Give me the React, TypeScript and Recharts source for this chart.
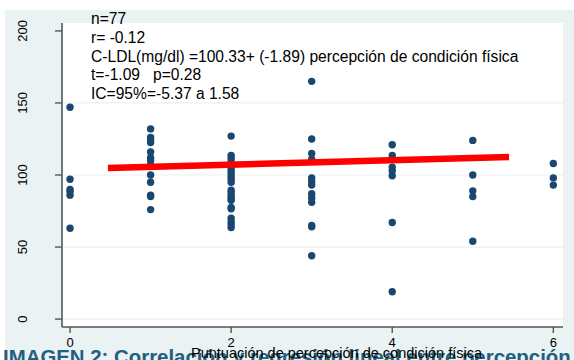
import React from 'react';
import {
  ScatterChart, Scatter, XAxis, YAxis, CartesianGrid,
} from 'recharts';

// C-LDL (mg/dl) read per physical-condition score
const scores = [0, 1, 2, 3, 4, 5, 6];
const ldlScore0 = [147, 97, 90, 88.5, 86, 63];
const ldlScore1 = [132, 126, 124.5, 122.5, 116, 112, 110, 107, 100, 95, 86, 85, 76];
const ldlScore2 = [127, 113.5, 111.5, 109, 105, 103, 101, 99, 97, 95, 89.5, 87.5, 85.5, 84, 82.5, 77.5, 76.5, 70, 67.5, 65.5, 63.5];
const ldlScore3 = [165, 125, 115, 111, 98, 95.5, 93, 87, 84, 81, 65, 64, 44];
const ldlScore4 = [121, 113.5, 105.5, 103, 99.5, 67, 19];
const ldlScore5 = [124, 100, 89, 85, 54];
const ldlScore6 = [108, 98, 93];

// fitted line as drawn
const fitX = [0.47, 5.45];
const fitY = [104.9, 112.5];

const xTicks = [0, 2, 4, 6];
const yTicks = [0, 50, 100, 150, 200];
const gridValues = [0, 50, 100, 150];

const statLines = [
  'n=77',
  'r= -0.12',
  'C-LDL(mg/dl) =100.33+ (-1.89) percepción de condición física',
  't=-1.09   p=0.28',
  'IC=95%=-5.37 a 1.58',
];

const columns = [ldlScore0, ldlScore1, ldlScore2, ldlScore3, ldlScore4, ldlScore5, ldlScore6];
const points = columns.flatMap((col, i) => col.map(y => ({ x: scores[i], y })));
const fitData = fitX.map((x, i) => ({ x, y: fitY[i] }));

const W = 574;
const H = 360;
const FONT = '"Liberation Sans", Arial, sans-serif';
const BG = '#eaf2f3';
const AXIS = '#555555';

const Dot = (p: any) => <circle cx={p.cx} cy={p.cy} r={3.7} fill="#1a476f" />;
const NoDot = () => <g />;

const YTick = (p: any) => {
  const x = p.x - 26;
  return (
    <text x={x} y={p.y} transform={`rotate(-90, ${x}, ${p.y})`} textAnchor="middle"
      fontSize={13} fill="#000" fontFamily={FONT}>
      {p.payload.value}
    </text>
  );
};

const XTitle = (p: any) => {
  const vb = p.viewBox || { x: 62, width: 501 };
  return (
    <text x={vb.x + vb.width / 2 + 24} y={358} textAnchor="middle" fontSize={14.5} fill="#000" fontFamily={FONT}>
      Puntuación de percepción de condición física
    </text>
  );
};

export default function App() {
  return (
    <div style={{ position: 'absolute', left: 0, top: 0, width: W, height: H, background: '#fff', fontFamily: FONT, overflow: 'hidden' }}>
      <div style={{ position: 'absolute', left: 5, top: 10, right: 0, bottom: 0, background: BG }} />

      {/* caption behind the chart */}
      <svg width={W} height={H} style={{ position: 'absolute', left: 0, top: 0 }}>
        <text x={3} y={364} fontSize={20.4} fontWeight="bold" fill="#21607c" fontFamily={FONT}>
          IMAGEN 2: Correlación y regresión lineal entre percepción
        </text>
      </svg>

      <div style={{ position: 'absolute', left: 0, top: 0 }}>
        <ScatterChart width={W} height={H} margin={{ top: 23, right: 11, bottom: 0, left: 0 }}>
          <CartesianGrid vertical={false} horizontalValues={gridValues} stroke={BG} strokeWidth={1.2} fill="#ffffff" />
          <XAxis
            type="number" dataKey="x" domain={[-0.1, 6.12]} ticks={xTicks} interval={0}
            height={33} tickSize={6} tickMargin={5}
            tick={{ fontSize: 13, fill: '#000' }}
            axisLine={{ stroke: AXIS, strokeWidth: 1.6 }} tickLine={{ stroke: AXIS, strokeWidth: 1.4 }}
            label={{ content: XTitle }}
          />
          <YAxis
            type="number" dataKey="y" domain={[-5.5, 205.5]} ticks={yTicks} interval={0}
            width={62} tickSize={7} tickMargin={2}
            tick={<YTick />}
            axisLine={{ stroke: AXIS, strokeWidth: 1.6 }} tickLine={{ stroke: AXIS, strokeWidth: 1.4 }}
          />
          <Scatter data={points} shape={<Dot />} isAnimationActive={false} />
          <Scatter data={fitData} shape={<NoDot />} line={{ stroke: '#ff0000', strokeWidth: 6.5 }}
            lineType="joint" isAnimationActive={false} />
        </ScatterChart>
      </div>

      {/* statistics text over the plot */}
      <svg width={W} height={H} style={{ position: 'absolute', left: 0, top: 0, pointerEvents: 'none' }}>
        {statLines.map((t, i) => (
          <text key={i} x={91} y={24 + i * 18.75} fontSize={15.6} fill="#000" fontFamily={FONT} style={{ whiteSpace: 'pre' }}>
            {t}
          </text>
        ))}
      </svg>
    </div>
  );
}
